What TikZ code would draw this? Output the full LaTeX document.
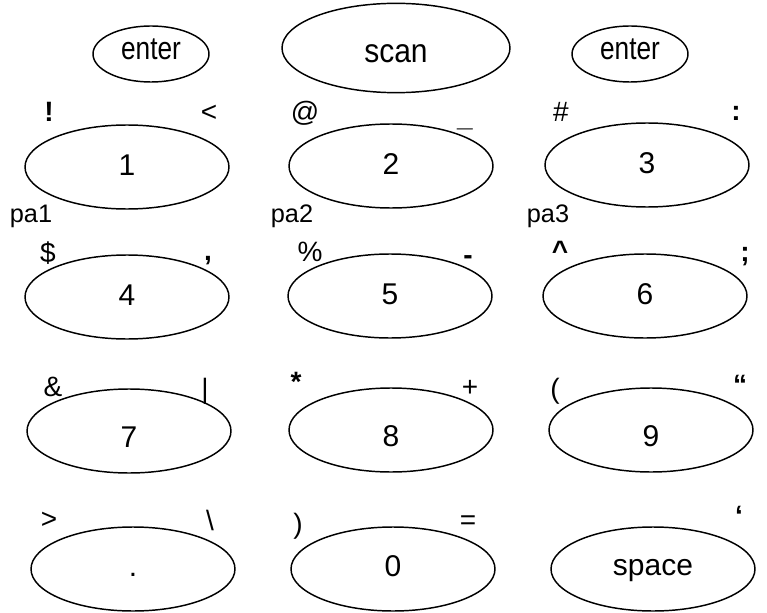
\documentclass[tikz,border=0pt]{standalone}
\usepackage{fontspec}
\setmainfont{Liberation Sans}
\newfontfamily\keynarrow[FakeStretch=0.82]{Liberation Sans}
\newfontfamily\keysemi[FakeStretch=0.9]{Liberation Sans}
\usetikzlibrary{shapes.geometric}
\definecolor{KeyInk}{gray}{0}
\definecolor{KeyPaper}{gray}{1}
\tikzset{
    keypad/diagram/.style={
        draw=KeyInk,
        text=KeyInk,
        line width=1.1pt,
        every node/.style={inner sep=0pt, outer sep=0pt}
    },
    keypad/key/.style={
        ellipse, draw=KeyInk, line width=1.1pt,
        minimum width=153pt, minimum height=63pt,
        font=\fontsize{22.5}{26}\selectfont,
        text height=13pt, text depth=0pt
    },
    keypad/drop/.style={text height=#1, text depth=0pt},
    keypad/small/.style={keypad/key, minimum width=87pt, minimum height=42pt,
        font=\keynarrow\fontsize{24}{27}\selectfont},
    keypad/wide/.style={keypad/key, minimum width=171pt, minimum height=67pt,
        font=\keysemi\fontsize{25}{28}\selectfont},
    keypad/mark/.style={font=\fontsize{21}{24}\selectfont},
    keypad/heavy/.style={font=\fontsize{21}{24}\selectfont\bfseries},
    keypad/tag/.style={font=\fontsize{19}{22}\selectfont}
}

\begin{document}
\begin{tikzpicture}[keypad/diagram, x=0.75pt, y=-0.75pt]
    \fill[KeyPaper] (0,0) rectangle (767,613);
    \useasboundingbox (0,0) rectangle (767,613);
    % top row
    \node[keypad/small, keypad/drop=9pt] (enterL) at (151,54) {enter};
    \node[keypad/wide, keypad/drop=21.5pt] (scan) at (396,48) {scan};
    \node[keypad/small, keypad/drop=9pt] (enterR) at (630,54) {enter};
    % keys
    \node[keypad/key] (k1) at (127,167) {1};
    \node[keypad/key] (k2) at (391,166) {2};
    \node[keypad/key] (k3) at (647,165) {3};
    \node[keypad/key] (k4) at (127,297) {4};
    \node[keypad/key] (k5) at (390,296) {5};
    \node[keypad/key] (k6) at (645,296) {6};
    \node[keypad/key, keypad/drop=24pt] (k7) at (129,431) {7};
    \node[keypad/key, keypad/drop=24pt] (k8) at (391,430) {8};
    \node[keypad/key, keypad/drop=24pt] (k9) at (651,430) {9};
    \node[keypad/key, keypad/drop=11pt] (kdot)   at (133,569) {.};
    \node[keypad/key, keypad/drop=11pt] (kzero)  at (393,569) {0};
    \node[keypad/key, keypad/drop=10pt] (kspace) at (653,569) {space};
    % shifted marks
    \node[keypad/heavy] (k1l) at (49,112) {!};
    \node[keypad/mark]  (k1r) at (209,113) {<};
    \node[keypad/mark]  (k2l) at (305,113) {@};
    \node[keypad/heavy] (k2r) at (465,128) {\_};
    \node[keypad/mark]  (k3l) at (561,112) {\#};
    \node[keypad/heavy] (k3r) at (736,113) {:};
    \node[keypad/tag] (pa1) at (31,216) {pa1};
    \node[keypad/tag] (pa2) at (292,216) {pa2};
    \node[keypad/tag] (pa3) at (548,216) {pa3};
    \node[keypad/mark]  (k4l) at (48,253) {\$};
    \node[keypad/heavy] (k4r) at (208,261) {,};
    \node[keypad/mark]  (k5l) at (310,252) {\%};
    \node[keypad/heavy] (k5r) at (468,260) {-};
    \node[keypad/heavy] (k6l) at (560,251) {\^{}};
    \node[keypad/heavy] (k6r) at (745,257) {;};
    \node[keypad/mark]  (k7l) at (53,387) {\&};
    \node[keypad/mark]  (k7r) at (205,391) {|};
    \node[keypad/heavy] (k8l) at (296,382) {*};
    \node[keypad/mark]  (k8r) at (470,388) {+};
    \node[keypad/mark]  (k9l) at (555,391) {(};
    \node[keypad/heavy] (k9r) at (740,385) {“};
    \node[keypad/mark]  (kdotl) at (49,520) {>};
    \node[keypad/mark]  (kdotr) at (210,520) {\textbackslash};
    \node[keypad/mark]  (kzerol) at (298,526) {)};
    \node[keypad/mark]  (kzeror) at (468,523) {=};
    \node[keypad/heavy] (kspacer) at (739,516) {‘};
\end{tikzpicture}
\end{document}
